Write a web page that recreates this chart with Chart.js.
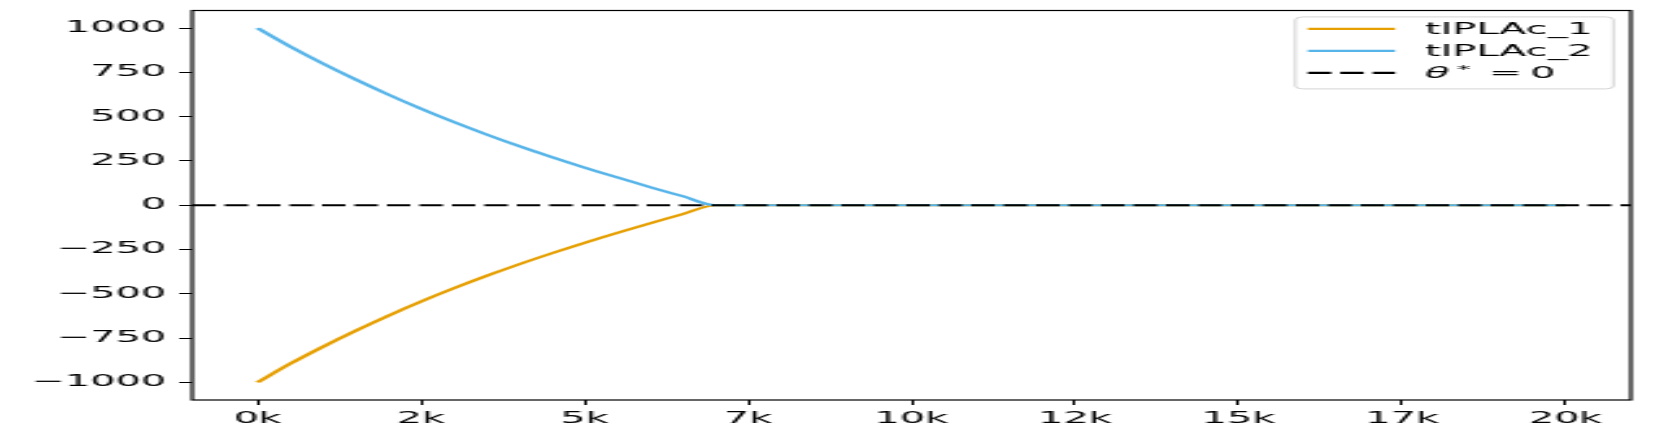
<!DOCTYPE html>
<html>
<head>
<meta charset="utf-8">
<script src="https://cdn.jsdelivr.net/npm/chart.js@4.4.1/dist/chart.umd.min.js"></script>
<style>
    html, body { margin: 0; padding: 0; background: #fff; overflow: hidden; }
    /* the figure is drawn narrow and stretched sideways, like the original */
    #chart { display: block; width: 1662px !important; height: 436px !important; }
</style>
</head>
<body>
<canvas id="chart" width="640" height="436" style="width:1662px;height:436px"></canvas>
<script>
/* ── data ── */
const STEPS      = [0, 500, 1000, 1500, 2000, 2500, 3000, 3500, 4000, 4500, 5000, 5500, 6000, 6500, 7000, 20000];
const TIPLAC_1   = [-1000, -895, -799, -709, -624, -544, -469, -399, -333, -271, -212, -156, -102, -50, 0, 0];
const TIPLAC_2   = [1000, 896, 800, 710, 625, 545, 470, 400, 334, 272, 213, 157, 103, 51, 0, 0];
const THETA_STAR = 0;

const X_LIMITS = [-1000, 21000];
const Y_LIMITS = [-1100, 1100];
const X_TICKS = [0, 2500, 5000, 7500, 10000, 12500, 15000, 17500, 20000];
const X_TICK_LABELS = ['0k', '2k', '5k', '7k', '10k', '12k', '15k', '17k', '20k'];
const Y_TICKS = [-1000, -750, -500, -250, 0, 250, 500, 750, 1000];
const Y_TICK_LABELS = ['\u22121000', '\u2212750', '\u2212500', '\u2212250', '0', '250', '500', '750', '1000'];

const FONT = { family: 'DejaVu Sans', size: 15.3 };
Chart.defaults.font.family = FONT.family;
Chart.defaults.color = '#000';

// 边框(四条轴线)
const frame = {
    id: 'frame',
    afterDatasetsDraw(chart) {
        const { ctx, chartArea: a } = chart;
        ctx.save();
        ctx.strokeStyle = '#000';
        ctx.lineWidth = 1.2;
        ctx.strokeRect(a.left, a.top, a.right - a.left, a.bottom - a.top);
        ctx.restore();
    },
};

function drawLabel(ctx, text, x, y) {
    const base = y + FONT.size * 0.73 / 2;
    const m = text.match(/^(.)\*\s*=\s*(.*)$/);
    ctx.font = `${FONT.size}px ${FONT.family}`;
    if (!m) { ctx.fillText(text, x, base); return; }
    // θ* = 0 : italic symbol, raised star
    ctx.font = `italic ${FONT.size}px ${FONT.family}`;
    ctx.fillText(m[1], x, base);
    ctx.font = `${FONT.size * 0.7}px ${FONT.family}`;
    ctx.fillText('*', x + 12.3, base - 5);
    ctx.font = `${FONT.size}px ${FONT.family}`;
    ctx.fillText('=', x + 24.6, base);
    ctx.fillText(m[2], x + 40.5, base);
}

// 图例
const legendBox = {
    id: 'legendBox',
    afterDraw(chart) {
        const { ctx, chartArea: a } = chart;
        const w = 122.5, h = 72;
        const x0 = a.right - 6.7 - w, y0 = a.top + 6.4;
        ctx.save();
        ctx.fillStyle = 'rgba(255,255,255,0.8)';
        ctx.strokeStyle = '#d4d4d4';
        ctx.lineWidth = 1;
        ctx.beginPath();
        ctx.roundRect(x0, y0, w, h, 3);
        ctx.fill();
        ctx.stroke();
        chart.data.datasets.forEach((ds, i) => {
            const y = y0 + 12 + i * 22;
            ctx.strokeStyle = ds.borderColor;
            ctx.lineWidth = ds.borderWidth;
            ctx.setLineDash(ds.borderDash || []);
            ctx.beginPath();
            ctx.moveTo(x0 + 4.8, y);
            ctx.lineTo(x0 + 38.4, y);
            ctx.stroke();
            ctx.setLineDash([]);
            ctx.fillStyle = '#000';
            drawLabel(ctx, ds.label, x0 + 49.9, y);
        });
        ctx.restore();
    },
};

const axisGrid = {
    display: true,
    drawOnChartArea: false,
    drawTicks: true,
    tickLength: 5,
    tickColor: '#000',
    tickWidth: 1,
};

const ctx = document.getElementById('chart').getContext('2d');
new Chart(ctx, {
    type: 'line',
    data: {
        datasets: [
            {
                label: 'tIPLAc_1',
                data: STEPS.map((s, i) => ({ x: s, y: TIPLAC_1[i] })),
                borderColor: '#E69F00',
                borderWidth: 2.2,
                pointRadius: 0,
                cubicInterpolationMode: 'monotone',
                order: 2,
            },
            {
                label: 'tIPLAc_2',
                data: STEPS.map((s, i) => ({ x: s, y: TIPLAC_2[i] })),
                borderColor: '#56B4E9',
                borderWidth: 2.2,
                pointRadius: 0,
                cubicInterpolationMode: 'monotone',
                order: 1,
            },
            {
                label: '\u03B8* = 0',
                data: X_LIMITS.map(x => ({ x, y: THETA_STAR })),
                borderColor: '#000',
                borderWidth: 2.2,
                borderDash: [9, 3.5],
                pointRadius: 0,
                order: 0,
            },
        ],
    },
    options: {
        responsive: false,
        devicePixelRatio: 1,
        animation: false,
        layout: { padding: { top: 10.5, right: 12, left: 0, bottom: 0 } },
        plugins: {
            legend: { display: false },
            tooltip: { enabled: false },
        },
        scales: {
            x: {
                type: 'linear',
                min: X_LIMITS[0],
                max: X_LIMITS[1],
                afterBuildTicks: s => { s.ticks = X_TICKS.map(v => ({ value: v })); },
                afterFit: s => { s.height = 36; s.paddingLeft = 0; s.paddingRight = 0; },
                ticks: {
                    callback: v => X_TICK_LABELS[X_TICKS.indexOf(v)],
                    font: FONT,
                    color: '#000',
                    padding: 4.5,
                    maxRotation: 0,
                    autoSkip: false,
                },
                grid: axisGrid,
                border: { display: false },
            },
            y: {
                type: 'linear',
                min: Y_LIMITS[0],
                max: Y_LIMITS[1],
                afterBuildTicks: s => { s.ticks = Y_TICKS.map(v => ({ value: v })); },
                afterFit: s => { s.width = 74; s.paddingTop = 0; s.paddingBottom = 0; },
                ticks: {
                    callback: v => Y_TICK_LABELS[Y_TICKS.indexOf(v)],
                    font: FONT,
                    color: '#000',
                    padding: 5,
                    autoSkip: false,
                },
                grid: axisGrid,
                border: { display: false },
            },
        },
    },
    plugins: [frame, legendBox],
});
</script>
</body>
</html>
